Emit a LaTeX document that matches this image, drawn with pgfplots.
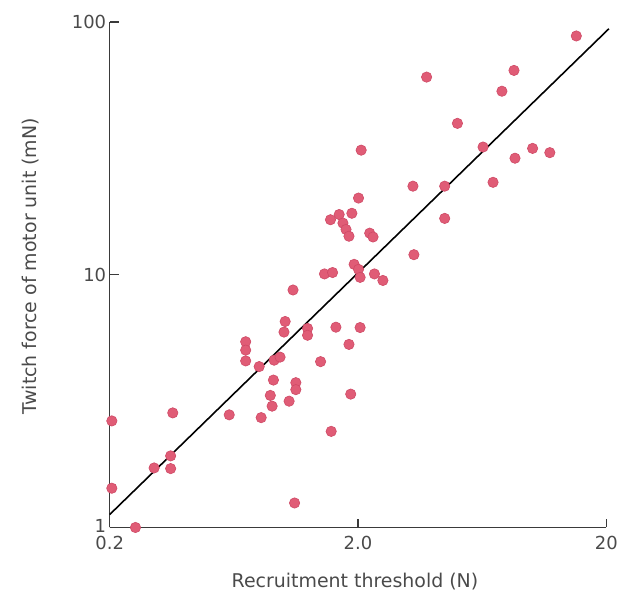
\documentclass[border=0pt]{standalone}
\usepackage{pgfplots}
\pgfplotsset{compat=1.18}
\usepackage{fontspec}
\setmainfont{DejaVu Sans}
\definecolor{pt}{HTML}{E05C76}
\definecolor{ptedge}{HTML}{CF4A66}
\definecolor{txt}{HTML}{4A4A4A}
\definecolor{axc}{HTML}{3A3A3A}
\begin{document}
\begin{tikzpicture}
\begin{axis}[
 at={(0,0)}, anchor=south west,
 scale only axis, width=498pt, height=507pt,
 xmode=log, ymode=log,
 xmin=0.2, xmax=20, ymin=1, ymax=100,
 axis lines*=left,
 axis line style={axc, line width=1.4pt, -},
 xtick={0.2,2,20}, xticklabels={0.2,2.0,20},
 ytick={1,10,100}, yticklabels={\raisebox{4pt}{1},10,100},
 xminorticks=false, yminorticks=false,
 xtick align=inside, ytick align=inside,
 major tick length=9pt,
 every major tick/.append style={axc, line width=1.4pt},
 tick label style={font=\fontsize{18}{20}\selectfont, text=txt},
 xticklabel style={yshift=-5pt},
 xlabel={Recruitment threshold (N)},
 ylabel={Twitch force of motor unit (mN)},
 label style={font=\fontsize{19}{22}\selectfont, text=txt},
 xlabel style={at={(axis description cs:0.494,-0.1065)}, anchor=center},
 ylabel style={at={(axis description cs:-0.159,0.517)}, anchor=center},
 clip=false,
]
\addplot[black, line width=1.6pt] coordinates {(0.2,1.125) (20.5,94)};
\addplot[only marks, mark=*, mark size=5.2pt, mark options={fill=pt, draw=ptedge, line width=0.6pt}] coordinates {
(0.204,2.64) (0.204,1.43) (0.254,1.0) (0.302,1.72) (0.352,1.92) (0.352,1.71)
(0.359,2.84) (0.606,2.79) (0.815,2.72) (0.902,3.02) (0.887,3.33) (0.913,3.83)
(1.056,3.16) (1.124,3.74) (1.124,3.51) (1.111,1.25) (1.56,2.40) (1.87,3.37)
(0.80,4.33) (0.706,5.43) (0.706,5.03) (0.706,4.56) (0.919,4.59) (0.971,4.72)
(1.007,5.93) (1.018,6.53) (1.095,8.70) (1.253,6.13) (1.253,5.76) (1.414,4.53)
(1.63,6.2) (1.84,5.30) (2.04,6.18) (1.466,10.07) (1.58,10.2) (1.93,10.99)
(2.01,10.5) (2.04,9.76) (2.33,10.07) (2.52,9.49) (1.55,16.5) (1.68,17.3)
(1.74,16.0) (1.79,15.1) (1.84,14.2) (1.89,17.5) (2.01,20.1) (2.23,14.6)
(2.30,14.1) (2.06,31.1) (3.36,12.0) (3.33,22.4) (3.78,60.5) (4.47,22.4)
(4.47,16.7) (5.03,39.7) (6.38,32.0) (7.0,23.2) (7.6,53.2) (8.5,64.3)
(8.58,28.9) (10.1,31.6) (11.85,30.4) (15.15,88.0)
};
\end{axis}
\path (-110pt,-72pt) rectangle (511pt,529pt);
\end{tikzpicture}
\end{document}
